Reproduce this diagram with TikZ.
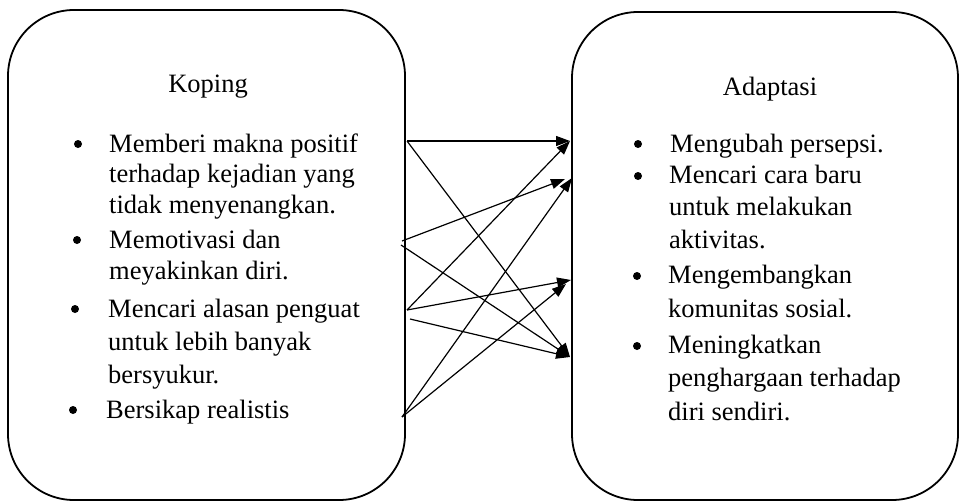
\documentclass[tikz,border=0pt]{standalone}
\usepackage{fontspec}
\setmainfont{Liberation Serif}
\usetikzlibrary{arrows.meta}
\newcommand{\lines}[1]{\begin{tabular}[t]{@{}l@{}}#1\end{tabular}}
\begin{document}
\begin{tikzpicture}[x=1pt,y=-1pt,
  panel/.style={draw, line width=1.8pt, rounded corners=66pt},
  txt/.style={inner sep=0pt, anchor=base west, font=\fontsize{26.5}{#1}\selectfont},
  txt/.default=31.5,
  head/.style={inner sep=0pt, anchor=base, font=\fontsize{26.5}{31.5}\selectfont},
  bul/.style={circle, fill, inner sep=0pt, minimum size=8pt},
  link/.style={line width=1.2pt, -{Triangle[length=14pt,width=10pt]}}]
\useasboundingbox (0,0) rectangle (960,503);

% the two rounded panels
\draw[panel] (8,10) rectangle (405,500);
\draw[panel] (572,12) rectangle (958,500);

% left panel: coping
\node[head] (koping) at (208,92) {Koping};
\node[bul] (kb1) at (78,144) {};
\node[txt=30.5] (k1) at (109,152) {\lines{Memberi makna positif\\terhadap kejadian yang\\tidak menyenangkan.}};
\node[bul] (kb2) at (77,240) {};
\node[txt=31] (k2) at (109,248) {\lines{Memotivasi dan\\meyakinkan diri.}};
\node[bul] (kb3) at (75,309) {};
\node[txt=33] (k3) at (108,317) {\lines{Mencari alasan penguat\\untuk lebih banyak\\bersyukur.}};
\node[bul] (kb4) at (73,410) {};
\node[txt] (k4) at (106,418) {Bersikap realistis};

% right panel: adaptation
\node[head] (adaptasi) at (770,95) {Adaptasi};
\node[bul] (ab1) at (638,144) {};
\node[txt] (a1) at (670,152) {Mengubah persepsi.};
\node[bul] (ab2) at (638,176) {};
\node[txt=32.5] (a2) at (669,183) {\lines{Mencari cara baru\\untuk melakukan\\aktivitas.}};
\node[bul] (ab3) at (637,276) {};
\node[txt=34] (a3) at (668,283) {\lines{Mengembangkan\\komunitas sosial.}};
\node[bul] (ab4) at (637,346) {};
\node[txt=33.5] (a4) at (668,353) {\lines{Meningkatkan\\penghargaan terhadap\\diri sendiri.}};

% connector ends
\coordinate (s1) at (407,141);
\coordinate (s2a) at (402,241);
\coordinate (s2b) at (401,245);
\coordinate (s3a) at (407,310);
\coordinate (s3b) at (410,319);
\coordinate (s4) at (402,417);
\coordinate (t1) at (570,141);
\coordinate (t2a) at (565,179);
\coordinate (t2b) at (572,178);
\coordinate (t3) at (571,280);
\coordinate (t3b) at (566,284);
\coordinate (t4) at (570,357);

% links from coping to adaptation
\draw[link] (s1) -- (t1);
\draw[link] (s1) -- (t4);
\draw[link] (s2a) -- (t2a);
\draw[link] (s2b) -- (t4);
\draw[link] (s3a) -- (t1);
\draw[link] (s3a) -- (t3);
\draw[link] (s3b) -- (t4);
\draw[link] (s4) -- (t2b);
\draw[link] (s4) -- (t3b);
\end{tikzpicture}
\end{document}
